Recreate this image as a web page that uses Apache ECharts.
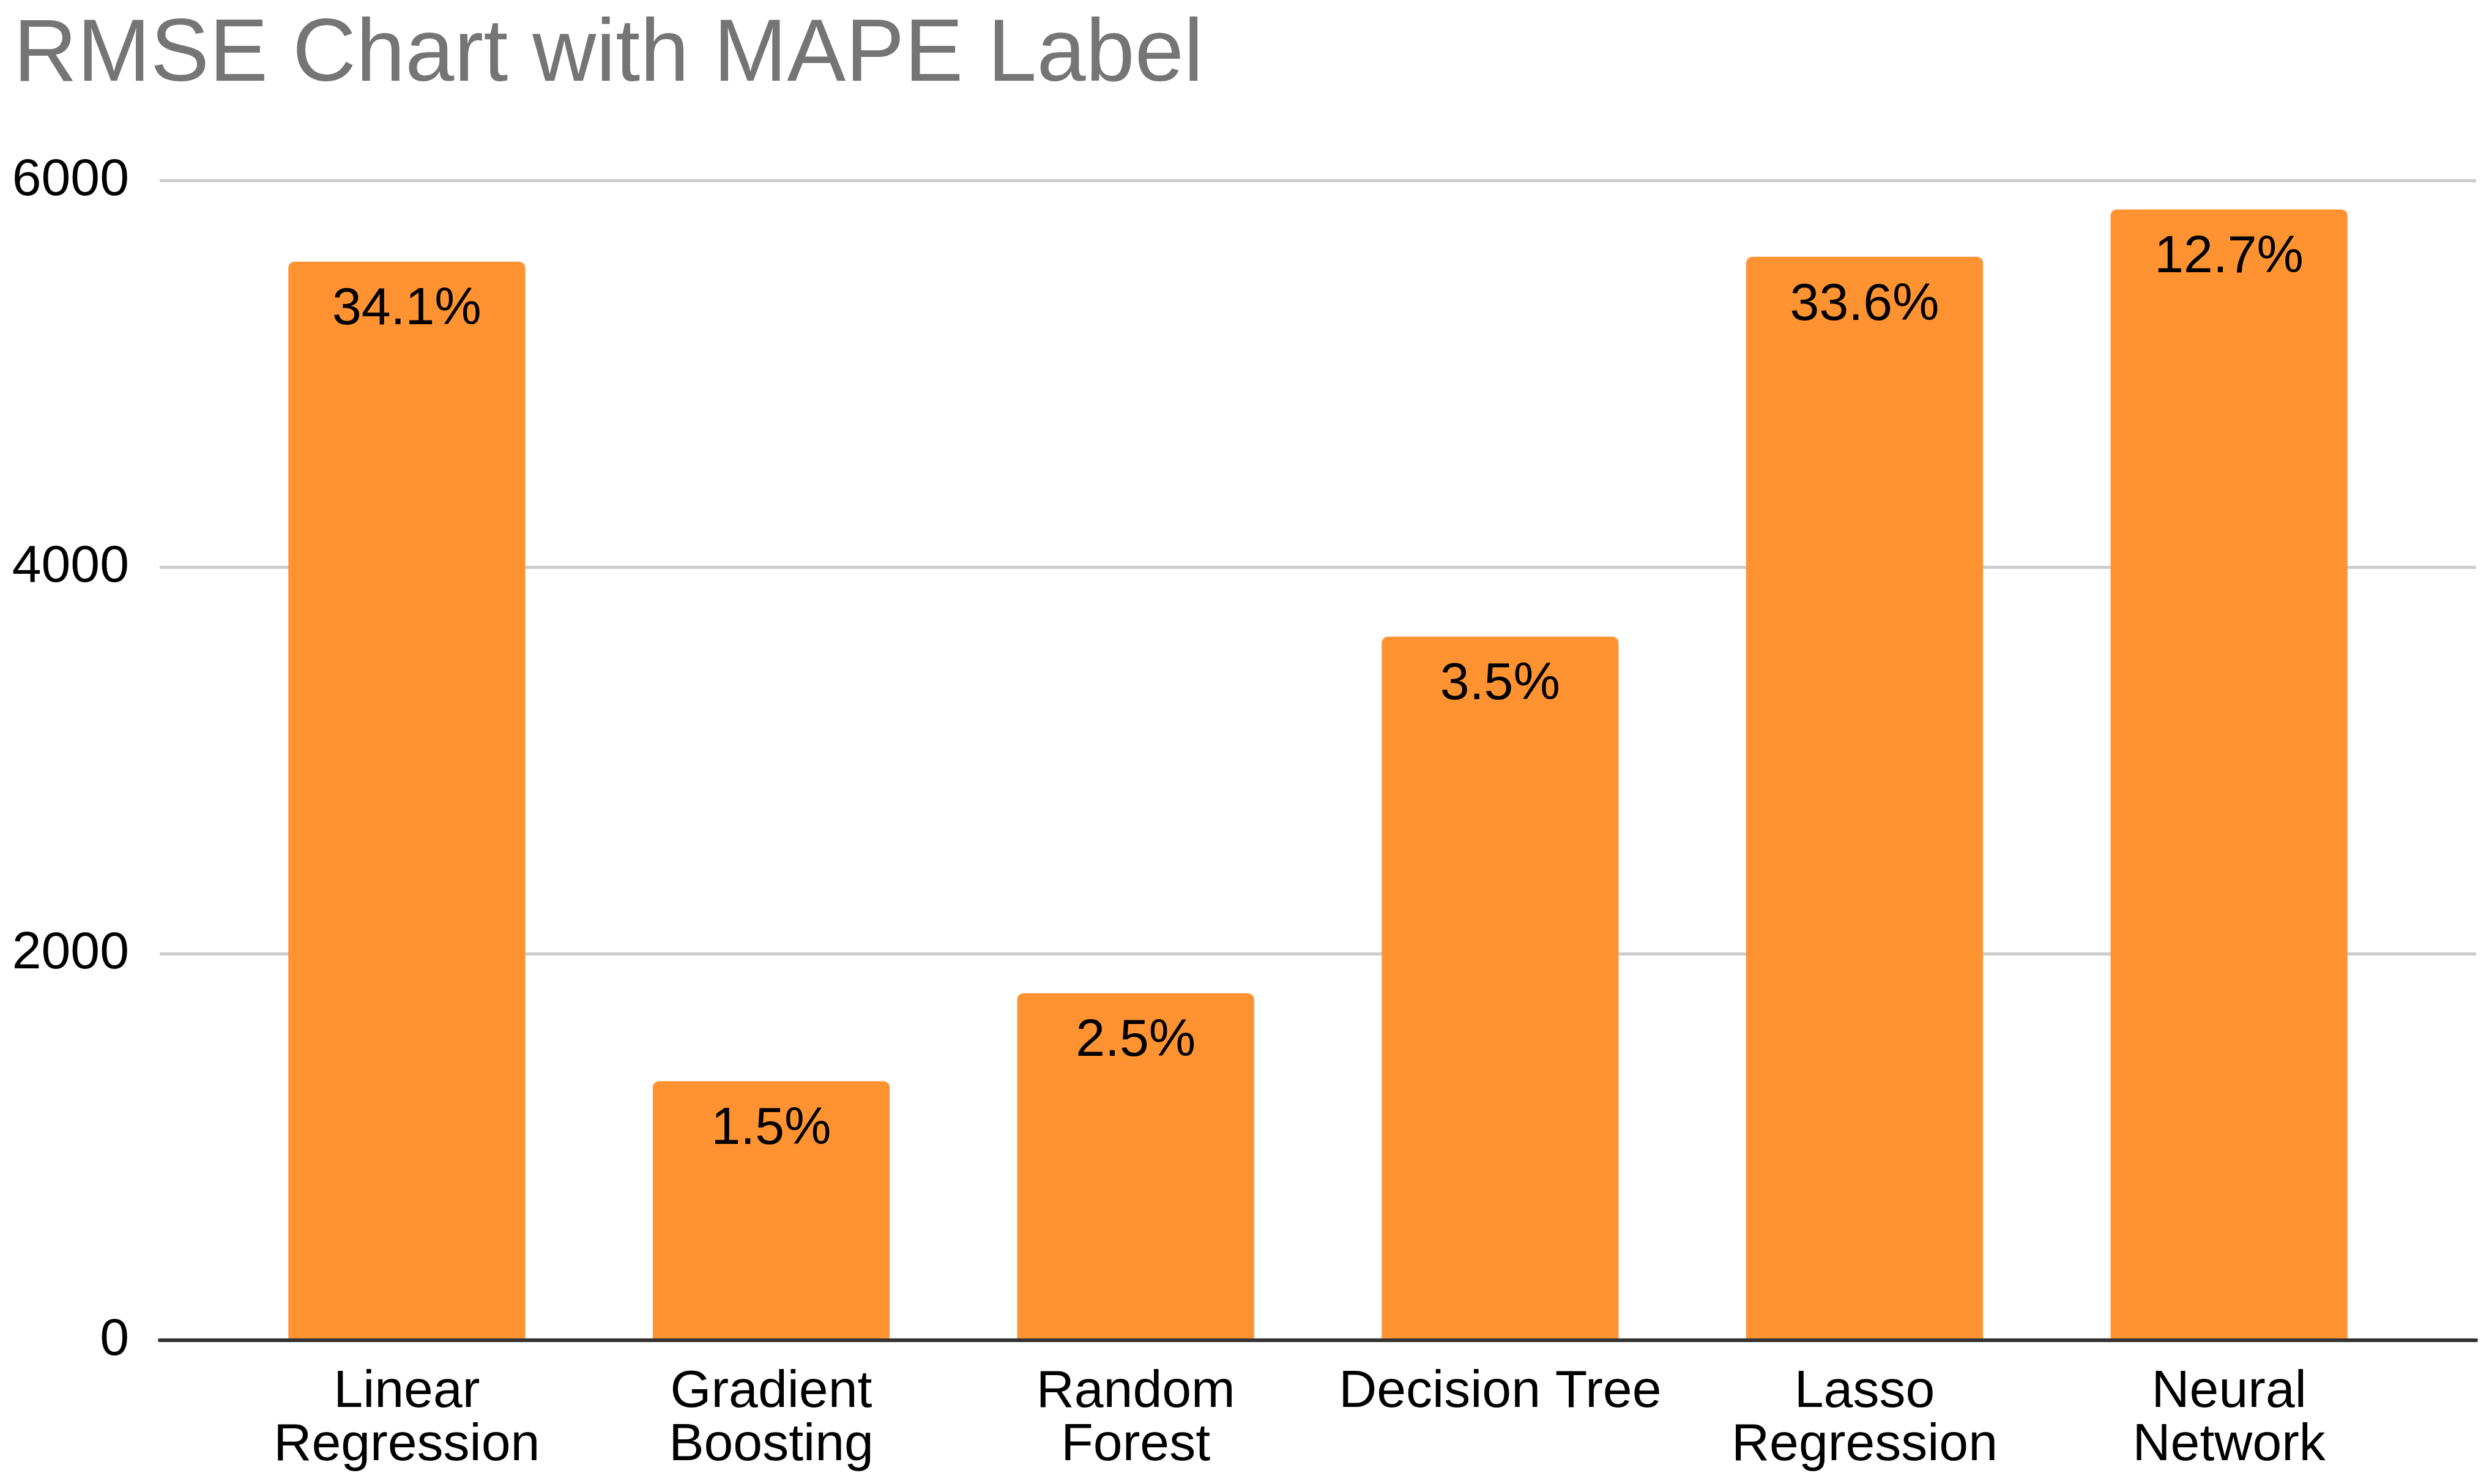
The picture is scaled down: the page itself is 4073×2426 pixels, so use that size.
<!DOCTYPE html>
<html>
<head>
<meta charset="utf-8">
<script src="https://cdn.jsdelivr.net/npm/echarts@6/dist/echarts.min.js"></script>
<style>
html,body{margin:0;padding:0;background:#fff;}
#chart{width:4073px;height:2426px;}
</style>
</head>
<body>
<div id="chart"></div>
<script>
const categories = ['Linear\nRegression', 'Gradient\nBoosting', 'Random\nForest', 'Decision Tree', 'Lasso\nRegression', 'Neural\nNetwork'];
const rmseValues = [5580, 1340, 1795, 3640, 5605, 5850];
const mapeLabels = ['34.1%', '1.5%', '2.5%', '3.5%', '33.6%', '12.7%'];
const yTicks = [0, 2000, 4000, 6000];

const FONT = '"Liberation Sans", Arial, Helvetica, sans-serif';
const chart = echarts.init(document.getElementById('chart'), null, {renderer: 'canvas'});

const option = {
  backgroundColor: '#ffffff',
  animation: false,
  title: {
    text: 'RMSE Chart with MAPE Label',
    left: 22,
    top: 20,
    padding: 0,
    textStyle: {fontFamily: FONT, fontSize: 144, fontWeight: 'normal', color: '#757575'}
  },
  grid: [
    {left: 261, right: 26, top: 295, bottom: 235, containLabel: false},
    {left: 367, right: 132, top: 295, bottom: 235, containLabel: false}
  ],
  xAxis: [
    {
      gridIndex: 0, type: 'value', min: 0, max: 1, z: 5,
      axisLine: {show: true, onZero: false, lineStyle: {color: '#333333', width: 6}},
      axisTick: {show: false}, axisLabel: {show: false}, splitLine: {show: false}
    },
    {
      gridIndex: 1, type: 'category', data: categories,
      axisLine: {show: false}, axisTick: {show: false},
      axisLabel: {
        interval: 0, margin: 42, fontFamily: FONT, fontSize: 86, lineHeight: 87,
        color: '#000000', verticalAlign: 'top'
      }
    }
  ],
  yAxis: [
    {
      gridIndex: 0, type: 'value', min: yTicks[0], max: yTicks[yTicks.length - 1],
      interval: yTicks[1] - yTicks[0],
      axisLine: {show: false}, axisTick: {show: false},
      axisLabel: {
        margin: 50, fontFamily: FONT, fontSize: 86, color: '#000000',
        formatter: function (v) { return String(v); }
      },
      splitLine: {show: true, lineStyle: {color: '#cccccc', width: 5}}
    },
    {
      gridIndex: 1, type: 'value', min: yTicks[0], max: yTicks[yTicks.length - 1],
      show: false, splitLine: {show: false}
    }
  ],
  series: [
    {
      type: 'bar',
      xAxisIndex: 1, yAxisIndex: 1,
      data: rmseValues,
      barCategoryGap: '35%',
      itemStyle: {color: '#ff9331', borderRadius: [10, 10, 0, 0]},
      label: {
        show: true, position: 'insideTop', distance: 36,
        fontFamily: FONT, fontSize: 86, color: '#000000',
        formatter: function (p) { return mapeLabels[p.dataIndex]; }
      }
    }
  ]
};
chart.setOption(option);
</script>
</body>
</html>
